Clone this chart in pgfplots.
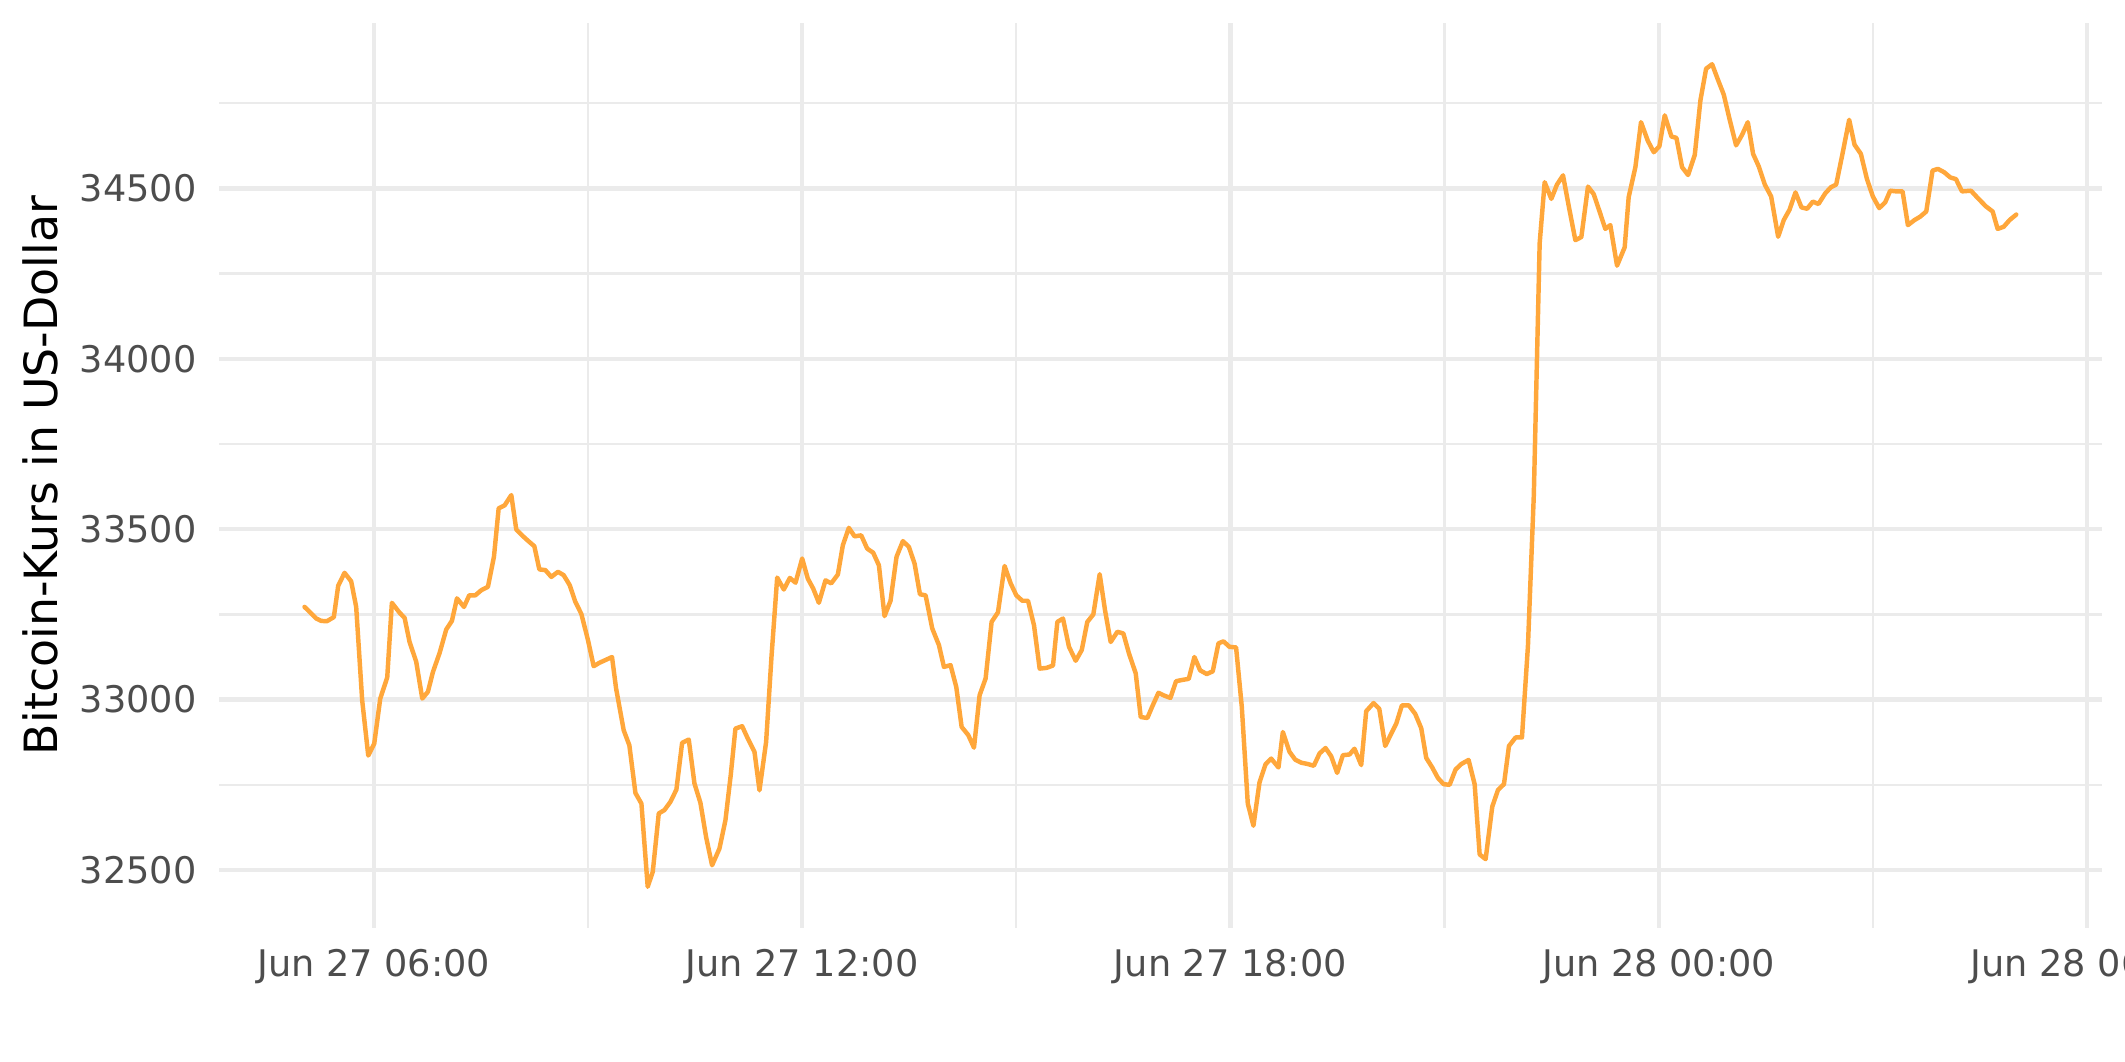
\documentclass[border=0pt]{standalone}
\usepackage{fontspec}
\setmainfont{DejaVu Sans}
\usepackage{pgfplots}
\pgfplotsset{compat=1.18}
\definecolor{gridc}{HTML}{EBEBEB}
\definecolor{tickc}{HTML}{4D4D4D}
\definecolor{linec}{HTML}{FFA73B}
\begin{document}
\begin{tikzpicture}
\begin{axis}[
  scale only axis,
  width=451.92pt, height=217.2pt,
  xmin=3.83, xmax=30.21,
  ymin=32330, ymax=34985,
  axis x line*=bottom, axis y line*=left,
  axis line style={draw=none},
  major tick length=0pt, minor tick length=0pt,
  xtick={6,12,18,24,30},
  xticklabels={Jun 27 06:00,Jun 27 12:00,Jun 27 18:00,Jun 28 00:00,Jun 28 06:00},
  minor xtick={9,15,21,27},
  ytick={32500,33000,33500,34000,34500},
  yticklabels={32500,33000,33500,34000,34500},
  minor ytick={32750,33250,33750,34250,34750},
  grid=both,
  major grid style={color=gridc, line width=1.07pt},
  minor grid style={color=gridc, line width=0.53pt},
  xticklabel style={font=\fontsize{8.8}{10}\selectfont, text=tickc, anchor=north, inner sep=0pt, yshift=-4.95pt},
  yticklabel style={font=\fontsize{8.8}{10}\selectfont, text=tickc, anchor=east, inner sep=0pt, xshift=-5.2pt},
  ylabel={Bitcoin-Kurs in US-Dollar},
  every axis y label/.style={at={(axis description cs:0,0.5)}, xshift=-42.96pt, rotate=90, anchor=center, font=\fontsize{11}{13}\selectfont, text=black},
  clip=false,
]
\addplot[color=linec, line width=1.07pt, line join=round, line cap=round] coordinates {
(5.028,33272) (5.112,33255) (5.192,33238) (5.262,33231) (5.341,33230) (5.439,33242)
(5.500,33334) (5.589,33372) (5.682,33347) (5.752,33272) (5.836,32998) (5.921,32836)
(6.005,32871) (6.089,33003) (6.187,33065) (6.252,33284) (6.360,33255) (6.430,33240)
(6.500,33169) (6.593,33111) (6.678,33003) (6.757,33023) (6.827,33081) (6.921,33137)
(7.014,33206) (7.093,33231) (7.164,33297) (7.262,33272) (7.336,33306) (7.421,33306)
(7.505,33321) (7.598,33331) (7.682,33419) (7.748,33561) (7.832,33570) (7.925,33600)
(7.995,33499)
(8.075,33482) (8.159,33466) (8.248,33450) (8.318,33382) (8.402,33380) (8.486,33360)
(8.579,33375) (8.659,33365) (8.743,33336) (8.822,33287) (8.907,33251) (9.000,33174)
(9.079,33098) (9.159,33108) (9.243,33116) (9.336,33125) (9.393,33033) (9.500,32910)
(9.579,32866) (9.664,32726) (9.748,32695) (9.836,32451) (9.907,32495) (9.991,32666)
(10.070,32676) (10.154,32700) (10.238,32736) (10.318,32873) (10.411,32883) (10.491,32754)
(10.575,32697) (10.654,32597) (10.738,32514) (10.841,32563) (10.925,32646) (11.000,32780)
(11.065,32915) (11.159,32922) (11.238,32886) (11.332,32847) (11.402,32734) (11.495,32876)
(11.570,33125) (11.650,33358) (11.743,33323) (11.827,33357) (11.907,33343) (12.000,33414)
(12.079,33355) (12.154,33326) (12.234,33284) (12.327,33350) (12.407,33341) (12.500,33367)
(12.570,33453) (12.654,33504) (12.734,33479) (12.827,33482) (12.911,33443) (12.995,33431)
(13.075,33394) (13.154,33245) (13.238,33290) (13.322,33419) (13.411,33465) (13.495,33448)
(13.575,33399) (13.650,33309) (13.729,33306) (13.822,33209) (13.916,33160) (13.986,33096)
(14.079,33101) (14.159,33037) (14.234,32920) (14.327,32896) (14.407,32859) (14.486,33013)
(14.570,33062) (14.654,33228) (14.743,33256) (14.836,33392) (14.921,33341) (15.000,33306)
(15.084,33290) (15.164,33290) (15.248,33218) (15.327,33091) (15.421,33093) (15.514,33100)
(15.575,33228) (15.654,33238) (15.738,33155) (15.832,33114) (15.916,33145) (15.995,33228)
(16.079,33250) (16.168,33368) (16.243,33262) (16.322,33169) (16.416,33199) (16.500,33194)
(16.579,33135) (16.673,33077) (16.743,32949) (16.836,32946) (16.907,32981) (16.991,33020)
(17.070,33012) (17.159,33005) (17.238,33054) (17.332,33058) (17.416,33061) (17.495,33125)
(17.575,33086) (17.668,33075) (17.752,33083) (17.832,33165) (17.902,33171) (17.986,33155)
(18.079,33153) (18.159,32979) (18.243,32695) (18.322,32630) (18.407,32757) (18.491,32810)
(18.570,32827) (18.673,32801) (18.734,32905) (18.827,32847) (18.907,32824) (18.991,32815)
(19.084,32811) (19.168,32806) (19.248,32842) (19.332,32858) (19.411,32834) (19.495,32785)
(19.575,32837) (19.668,32839) (19.738,32856) (19.832,32808) (19.902,32966) (20.005,32990)
(20.085,32973) (20.168,32864) (20.243,32896) (20.322,32929) (20.402,32983) (20.500,32983)
(20.589,32958) (20.673,32916) (20.743,32829) (20.827,32801) (20.907,32770) (20.986,32752)
(21.070,32750) (21.154,32795) (21.234,32811) (21.336,32823) (21.421,32752) (21.491,32546)
(21.575,32532) (21.668,32686) (21.748,32735) (21.832,32752) (21.902,32864) (21.995,32889)
(22.084,32889) (22.168,33158) (22.250,33600) (22.332,34339) (22.402,34518) (22.495,34469)
(22.575,34511) (22.659,34538) (22.743,34444) (22.832,34348) (22.916,34357) (23.009,34505)
(23.089,34483) (23.168,34434) (23.252,34381) (23.322,34392) (23.416,34273) (23.523,34327)
(23.579,34474) (23.673,34562) (23.752,34694) (23.846,34640) (23.930,34606) (24.009,34623)
(24.084,34714) (24.178,34652) (24.248,34648) (24.327,34562) (24.411,34539) (24.505,34598)
(24.584,34758) (24.664,34851) (24.748,34864) (24.827,34820) (24.911,34775) (24.991,34704)
(25.084,34626) (25.168,34657) (25.248,34694) (25.322,34601) (25.402,34564) (25.486,34511)
(25.575,34476) (25.673,34358) (25.752,34407) (25.832,34437) (25.916,34488) (26.000,34444)
(26.079,34440) (26.159,34461) (26.238,34454) (26.332,34485) (26.411,34503) (26.486,34511)
(26.579,34606) (26.668,34701) (26.743,34628) (26.832,34601) (26.916,34528) (27.000,34476)
(27.089,34442) (27.173,34459) (27.243,34493) (27.327,34491) (27.416,34491) (27.491,34392)
(27.584,34407) (27.664,34417) (27.748,34432) (27.836,34552) (27.911,34557) (28.000,34547)
(28.084,34532) (28.164,34527) (28.248,34491) (28.374,34493) (28.481,34469) (28.584,34447)
(28.678,34432) (28.748,34381) (28.832,34387) (28.916,34407) (29.009,34423)
};
\coordinate (ll) at (rel axis cs:0,0);
\coordinate (ur) at (rel axis cs:1,1);
\end{axis}
\pgfresetboundingbox
\path[use as bounding box] ([shift={(-52.56pt,-32.16pt)}]ll) rectangle ([shift={(5.52pt,5.52pt)}]ur);
\end{tikzpicture}
\end{document}
